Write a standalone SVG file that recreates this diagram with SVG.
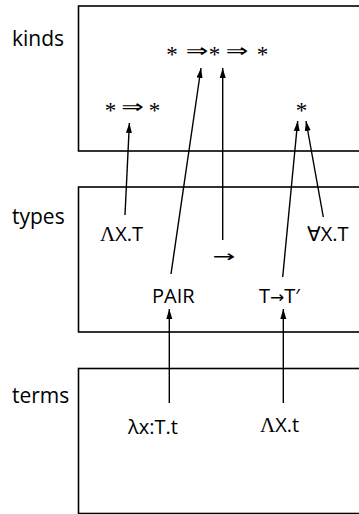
<svg xmlns="http://www.w3.org/2000/svg" width="359" height="514" viewBox="0 0 359 514">
<style>
.box{fill:none;stroke:#000;stroke-width:1.6}
.lbl{font-family:"Open Sans","DejaVu Sans",sans-serif;font-size:21px;fill:#000}
.t{font-family:"Open Sans","DejaVu Sans",sans-serif;font-size:20px;fill:#000}
.g{font-family:"Liberation Serif",serif;font-size:21px}
.m{font-family:"Liberation Serif","DejaVu Serif",serif;fill:#000;text-anchor:middle}
.s{font-size:23px}
.d{font-family:"DejaVu Sans",sans-serif;font-size:18px}
.c{stroke:#000;stroke-width:1.4;fill:none;marker-end:url(#ah)}
</style>
<defs>
<marker id="ah" markerUnits="userSpaceOnUse" markerWidth="10" markerHeight="10" viewBox="0 0 10 6" refX="10" refY="3" orient="auto">
<path d="M0,0 L10,3 L0,6 z" fill="#000"/>
</marker>
</defs>
<g id="kinds">
<rect class="box" x="78.5" y="6" width="300" height="145"/>
<text class="lbl" x="12" y="46">kinds</text>
<g id="k1">
<text class="m s" x="110.5" y="118">*</text>
<text class="m d" transform="translate(132.5,113) scale(1.5,1)">⇒</text>
<text class="m s" x="154.5" y="118">*</text>
</g>
<g id="k2">
<text class="m s" x="172" y="62">*</text>
<text class="m d" transform="translate(197,57) scale(1.5,1)">⇒</text>
<text class="m s" x="214.5" y="62">*</text>
<text class="m d" transform="translate(237,57) scale(1.5,1)">⇒</text>
<text class="m s" x="262.5" y="62">*</text>
</g>
<g id="k3">
<text class="m s" x="301.5" y="118">*</text>
</g>
</g>
<g id="types">
<rect class="box" x="78.5" y="187" width="300" height="145"/>
<text class="lbl" x="12" y="224">types</text>
<text id="t1" class="t" x="100" y="241"><tspan class="g">Λ</tspan>X.T</text>
<text id="t2" class="t" x="307" y="241">∀X.T</text>
<text id="t3" class="m d" style="font-size:16px" transform="translate(224,262) scale(1.7,1)">→</text>
<text id="t4" class="t" x="152" y="303">PAIR</text>
<text id="t5" class="t" x="259" y="303">T<tspan style="font-family:'DejaVu Sans';font-size:17px">→</tspan>T′</text>
</g>
<g id="terms">
<rect class="box" x="78.5" y="368.5" width="300" height="145"/>
<text class="lbl" x="12" y="403">terms</text>
<text id="e1" class="t" x="128" y="434">λx:T.t</text>
<text id="e2" class="t" x="260" y="432"><tspan class="g">Λ</tspan>X.t</text>
</g>
<g id="connectors">
<path class="c" d="M125,215 L129.4,123"/>
<path class="c" d="M171,274 L201,68"/>
<path class="c" d="M222.7,240 L222.7,68"/>
<path class="c" d="M282.7,277 L297.7,121"/>
<path class="c" d="M323.3,217 L306,121"/>
<path class="c" d="M169.3,403 L169.3,309"/>
<path class="c" d="M283.3,403 L283.3,309"/>
</g>
</svg>
